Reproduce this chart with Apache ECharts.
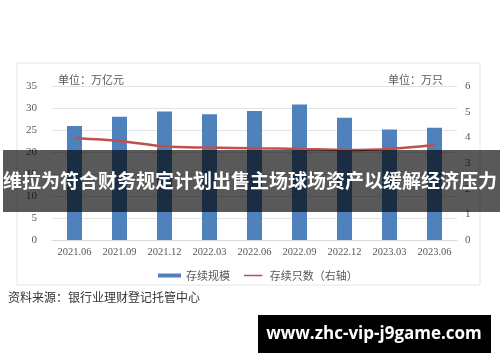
<!DOCTYPE html>
<html><head><meta charset="utf-8">
<script src="https://cdn.jsdelivr.net/npm/echarts@6/dist/echarts.min.js"></script>
<style>html,body{margin:0;padding:0;background:#fff}#c{width:500px;height:362px}</style>
</head><body><div id="c"></div>
<script>
const categories = ['2021.06','2021.09','2021.12','2022.03','2022.06','2022.09','2022.12','2023.03','2023.06'];
const scaleValues = [25.9, 28.0, 29.2, 28.6, 29.3, 30.8, 27.8, 25.1, 25.5];
const countValues = [3.96, 3.86, 3.64, 3.60, 3.57, 3.55, 3.51, 3.55, 3.70];
const seriesNames = ['存续规模', '存续只数（右轴）'];
const leftUnit = '单位：万亿元';
const rightUnit = '单位：万只';
const sourceText = '资料来源：银行业理财登记托管中心';
const bannerText = '维拉为符合财务规定计划出售主场球场资产以缓解经济压力';
const watermark = 'www.zhc-vip-j9game.com';

const serif = '"Liberation Serif","DejaVu Serif",serif';
const cjk = '"Noto Sans CJK SC",sans-serif';
const chart = echarts.init(document.getElementById('c'), null, {renderer:'canvas'});
chart.setOption({
  animation:false,
  backgroundColor:'#fff',
  grid:{left:52,right:43,top:86,bottom:122},
  legend:{
    left:153, top:265, itemGap:14, itemWidth:23, itemHeight:4,
    textStyle:{fontFamily:cjk,fontSize:11,color:'#595959'},
    data:[
      {name:seriesNames[0],icon:'rect'},
      {name:seriesNames[1],icon:'path://M0,0L0.01,0L0.01,0.01Z M0,1.6L23,1.6L23,3.4L0,3.4Z M0,5L0.01,5L0.01,4.99Z'}
    ]
  },
  xAxis:{
    type:'category', data:categories,
    axisLine:{lineStyle:{color:'#d9d9d9'}},
    axisTick:{show:false},
    axisLabel:{interval:0,fontFamily:serif,fontSize:10.5,color:'#595959',margin:7}
  },
  yAxis:[
    {type:'value',min:0,max:35,interval:5,
     axisLabel:{fontFamily:serif,fontSize:11,color:'#595959',margin:15},
     splitLine:{lineStyle:{color:'#e3e3e3'}},axisLine:{show:false},axisTick:{show:false}},
    {type:'value',min:0,max:6,interval:1,position:'right',
     axisLabel:{fontFamily:serif,fontSize:11,color:'#595959',margin:8},
     splitLine:{show:false},axisLine:{show:false},axisTick:{show:false}}
  ],
  series:[
    {name:seriesNames[0],type:'bar',data:scaleValues,barWidth:15,itemStyle:{color:'#4f81bd'}},
    {name:seriesNames[1],type:'line',yAxisIndex:1,data:countValues,symbol:'none',smooth:0.3,
     lineStyle:{color:'#c0504d',width:2.5},itemStyle:{color:'#c0504d'}}
  ],
  graphic:[
    {type:'rect',shape:{x:17,y:63,width:463,height:222},style:{fill:'none',stroke:'#e6e6e6',lineWidth:1},z:0},
    {type:'text',x:58,y:74,style:{text:leftUnit,font:'11px '+cjk,fill:'#595959'}},
    {type:'text',x:388,y:74,style:{text:rightUnit,font:'11px '+cjk,fill:'#595959'}},
    {type:'text',x:8,y:291,style:{text:sourceText,font:'12px '+cjk,fill:'#333'}},
    {type:'rect',shape:{x:3,y:150,width:497,height:62},style:{fill:'rgba(0,0,0,0.65)'},z:100},
    {type:'text',x:250,y:181,z:101,style:{text:bannerText,font:'bold 19px '+cjk,fill:'#fff',align:'center',verticalAlign:'middle'}},
    {type:'rect',shape:{x:258,y:315,width:233,height:38},style:{fill:'#000'},z:100},
    {type:'text',x:374,y:334,z:101,style:{text:watermark,font:'bold 17px "Open Sans",sans-serif',fill:'#fff',align:'center',verticalAlign:'middle'}}
  ]
});
</script></body></html>
